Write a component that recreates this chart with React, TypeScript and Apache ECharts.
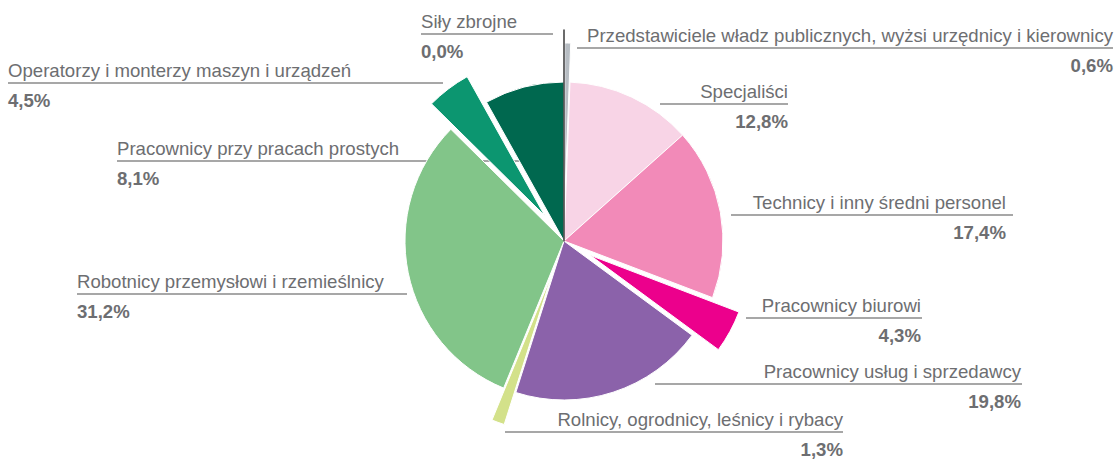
import React, { useEffect, useRef } from 'react';
import * as echarts from 'echarts';

const categories = [
  'Przedstawiciele władz publicznych, wyżsi urzędnicy i kierownicy',
  'Specjaliści',
  'Technicy i inny średni personel',
  'Pracownicy biurowi',
  'Pracownicy usług i sprzedawcy',
  'Rolnicy, ogrodnicy, leśnicy i rybacy',
  'Robotnicy przemysłowi i rzemieślnicy',
  'Operatorzy i monterzy maszyn i urządzeń',
  'Pracownicy przy pracach prostych',
  'Siły zbrojne',
];
const shares = [0.6, 12.8, 17.4, 4.3, 19.8, 1.3, 31.2, 4.5, 8.1, 0.0];
const colors = ['#b7bdc3', '#f8d4e6', '#f28ab8', '#ec008c', '#8b62aa', '#d3e18a', '#82c589', '#0c9670', '#00684f', '#3b3b3b'];
// how far each slice is pulled out of the pie (px); 0 = stays in place
const explodeOffset = [39, 0, 0, 30, 0, 34, 0, 32, 0, 0];
// the zero slice is drawn as a longer spoke
const spokeRadius = [0, 0, 0, 0, 0, 0, 0, 0, 0, 211];

// label placement: text anchor x, guide line y, guide line from x, to x, text alignment
const labelPlacement: [number, number, number, number, 'left' | 'right'][] = [
  [1113, 48, 577, 1113, 'right'],
  [788, 104, 660, 788, 'right'],
  [1006, 215, 731, 1013, 'right'],
  [921, 318, 746, 922, 'right'],
  [1021, 384, 655, 1022, 'right'],
  [843, 432, 505, 843, 'right'],
  [77, 294, 77, 407, 'left'],
  [8, 83, 8, 443, 'left'],
  [117, 161, 117, 545, 'left'],
  [421, 34, 421, 553, 'left'],
];

const CX = 564;
const CY = 241;
const R = 159;

const fmt = (v: number) => v.toFixed(1).replace('.', ',') + '%';
const TRANSPARENT = 'rgba(0,0,0,0)';

export default function App() {
  const ref = useRef<HTMLDivElement>(null);
  useEffect(() => {
    if (!ref.current) return;
    const chart = echarts.init(ref.current, undefined, { renderer: 'svg' });
    const font = "'Liberation Sans', Arial, Helvetica, sans-serif";
    const total = shares.reduce((a, b) => a + b, 0);
    const special = new Set<number>();
    shares.forEach((_, i) => {
      if (explodeOffset[i] > 0 || spokeRadius[i] > 0) special.add(i);
    });

    const baseSeries = {
      type: 'pie',
      center: [CX, CY],
      radius: [0, R],
      startAngle: 90,
      clockwise: true,
      avoidLabelOverlap: false,
      emphasis: { disabled: true },
      silent: true,
      itemStyle: { borderColor: '#ffffff', borderWidth: 1 },
      label: {
        show: true,
        position: 'outside',
        padding: 0,
        formatter: (p: any) => `{n|${p.name}}\n{v|${fmt(p.value)}}`,
        rich: {
          n: { fontFamily: font, fontSize: 18.6, color: '#6d6e71', lineHeight: 26 },
          v: { fontFamily: font, fontSize: 18.6, fontWeight: 'bold', color: '#6d6e71', lineHeight: 34 },
        },
      },
      labelLine: { show: true, lineStyle: { color: '#8a8a8a', width: 1.5 } },
      labelLayout: (params: any) => {
        const [x, ly, x1, x2, align] = labelPlacement[params.dataIndex];
        return {
          x,
          y: ly - 26,
          align,
          verticalAlign: 'top',
          labelLinePoints: [[x1, ly], [x2, ly]],
        };
      },
      data: categories.map((name, i) => ({
        name,
        value: shares[i],
        itemStyle: special.has(i)
          ? { color: TRANSPARENT, borderColor: TRANSPARENT, borderWidth: 0 }
          : { color: colors[i] },
      })),
    };

    const extraSeries: any[] = [];
    let cum = 0;
    shares.forEach((v, k) => {
      const mid = ((90 - ((cum + v / 2) / total) * 360) * Math.PI) / 180;
      cum += v;
      if (!special.has(k)) return;
      const off = explodeOffset[k];
      const isSpoke = spokeRadius[k] > 0;
      extraSeries.push({
        type: 'pie',
        center: [CX + off * Math.cos(mid), CY - off * Math.sin(mid)],
        radius: [0, isSpoke ? spokeRadius[k] : R],
        startAngle: 90,
        clockwise: true,
        silent: true,
        emphasis: { disabled: true },
        label: { show: false },
        labelLine: { show: false },
        data: categories.map((name, i) => ({
          name,
          value: shares[i],
          itemStyle:
            i === k
              ? isSpoke
                ? { color: colors[i], borderColor: colors[i], borderWidth: 1.5 }
                : { color: colors[i], borderColor: '#ffffff', borderWidth: 1 }
              : { color: TRANSPARENT, borderColor: TRANSPARENT, borderWidth: 0 },
        })),
      });
    });

    chart.setOption({
      animation: false,
      series: [baseSeries, ...extraSeries],
    });
    return () => chart.dispose();
  }, []);
  return <div ref={ref} style={{ position: 'absolute', left: 0, top: 0, width: 1116, height: 459 }} />;
}
